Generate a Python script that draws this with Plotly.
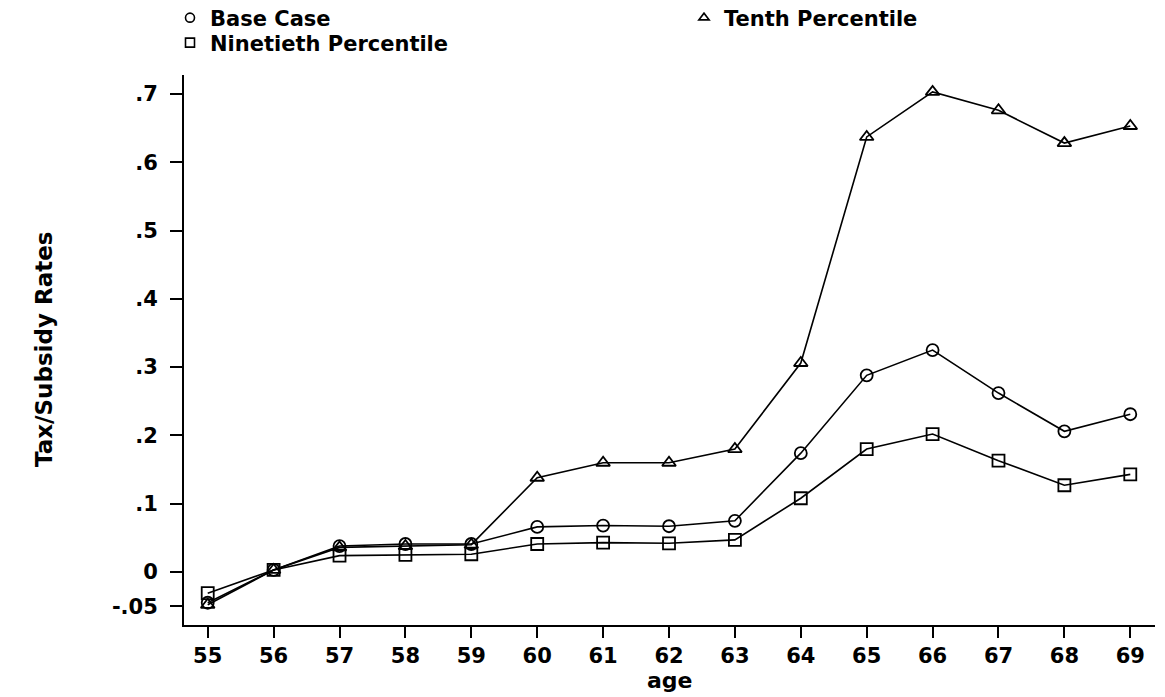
import plotly.graph_objects as go

ages = list(range(55, 70))
base_case = [-0.045, 0.003, 0.038, 0.041, 0.041, 0.066, 0.068, 0.067, 0.075, 0.174, 0.288, 0.325, 0.262, 0.206, 0.231]
tenth_pct = [-0.048, 0.003, 0.036, 0.038, 0.040, 0.138, 0.160, 0.160, 0.180, 0.306, 0.637, 0.703, 0.676, 0.628, 0.653]
ninetieth_pct = [-0.031, 0.003, 0.024, 0.025, 0.026, 0.041, 0.043, 0.042, 0.047, 0.108, 0.180, 0.202, 0.163, 0.127, 0.143]

y_tickvals = [-0.05, 0, 0.1, 0.2, 0.3, 0.4, 0.5, 0.6, 0.7]
y_ticktext = ["-.05", "0", ".1", ".2", ".3", ".4", ".5", ".6", ".7"]

FONT = "DejaVu Sans"
# name, values, symbol, legend id, legend x (px), legend y (px)
series = [
    ("Base Case", base_case, "circle-open", "legend", 162, 10),
    ("Tenth Percentile", tenth_pct, "triangle-up-open", "legend2", 676, 10),
    ("Ninetieth Percentile", ninetieth_pct, "square-open", "legend3", 162, 35),
]

fig = go.Figure()
for name, vals, sym, *_ in series:
    fig.add_trace(go.Scatter(
        x=ages, y=vals, mode="lines+markers", name=name, showlegend=False,
        line=dict(color="black", width=1.6),
        marker=dict(symbol=sym, size=12, color="black", line=dict(width=1.8, color="black")),
    ))

legend_layout = {}
for name, vals, sym, lg, lx, ly in series:
    fig.add_trace(go.Scatter(
        x=[None], y=[None], mode="markers", name=name, showlegend=True, legend=lg,
        marker=dict(symbol=sym, size=9, color="black", line=dict(width=1.6, color="black")),
    ))
    legend_layout[lg] = dict(
        xref="container", yref="container",
        x=lx / 1165, xanchor="left", y=1 - ly / 697, yanchor="middle",
        font=dict(family=FONT, size=21, color="black", weight="bold"),
        itemsizing="trace", bgcolor="rgba(0,0,0,0)", borderwidth=0,
    )

fig.update_layout(
    width=1165, height=697,
    margin=dict(l=176, r=18, t=67, b=80, autoexpand=False),
    paper_bgcolor="white", plot_bgcolor="white",
    font=dict(family=FONT, color="black", size=21, weight="bold"),
    xaxis=dict(
        range=[54.64, 69.375], tickmode="array", tickvals=ages,
        showline=True, linecolor="black", linewidth=2,
        ticks="outside", ticklen=11, tickwidth=1.5, tickcolor="black",
        showgrid=False, zeroline=False, automargin=False,
        tickfont=dict(family=FONT, size=21, color="black", weight="bold"),
    ),
    yaxis=dict(
        range=[-0.0776, 0.7277], tickmode="array", tickvals=y_tickvals, ticktext=y_ticktext,
        showline=True, linecolor="black", linewidth=2,
        ticks="outside", ticklen=12, tickwidth=1.5, tickcolor="black",
        showgrid=False, zeroline=False, automargin=False, ticklabelstandoff=8,
        tickfont=dict(family=FONT, size=21, color="black", weight="bold"),
    ),
    annotations=[
        dict(text="age", xref="paper", yref="paper", x=0.5, y=-(680 - 625) / 550,
             xanchor="center", yanchor="middle", showarrow=False,
             font=dict(family=FONT, size=22, color="black", weight="bold")),
        dict(text="Tax/Subsidy Rates", xref="paper", yref="paper",
             x=(44 - 184) / 971, y=0.5, xanchor="center", yanchor="middle",
             textangle=-90, showarrow=False,
             font=dict(family=FONT, size=23, color="black", weight="bold")),
    ],
    **legend_layout,
)

fig.write_html("out.html")
